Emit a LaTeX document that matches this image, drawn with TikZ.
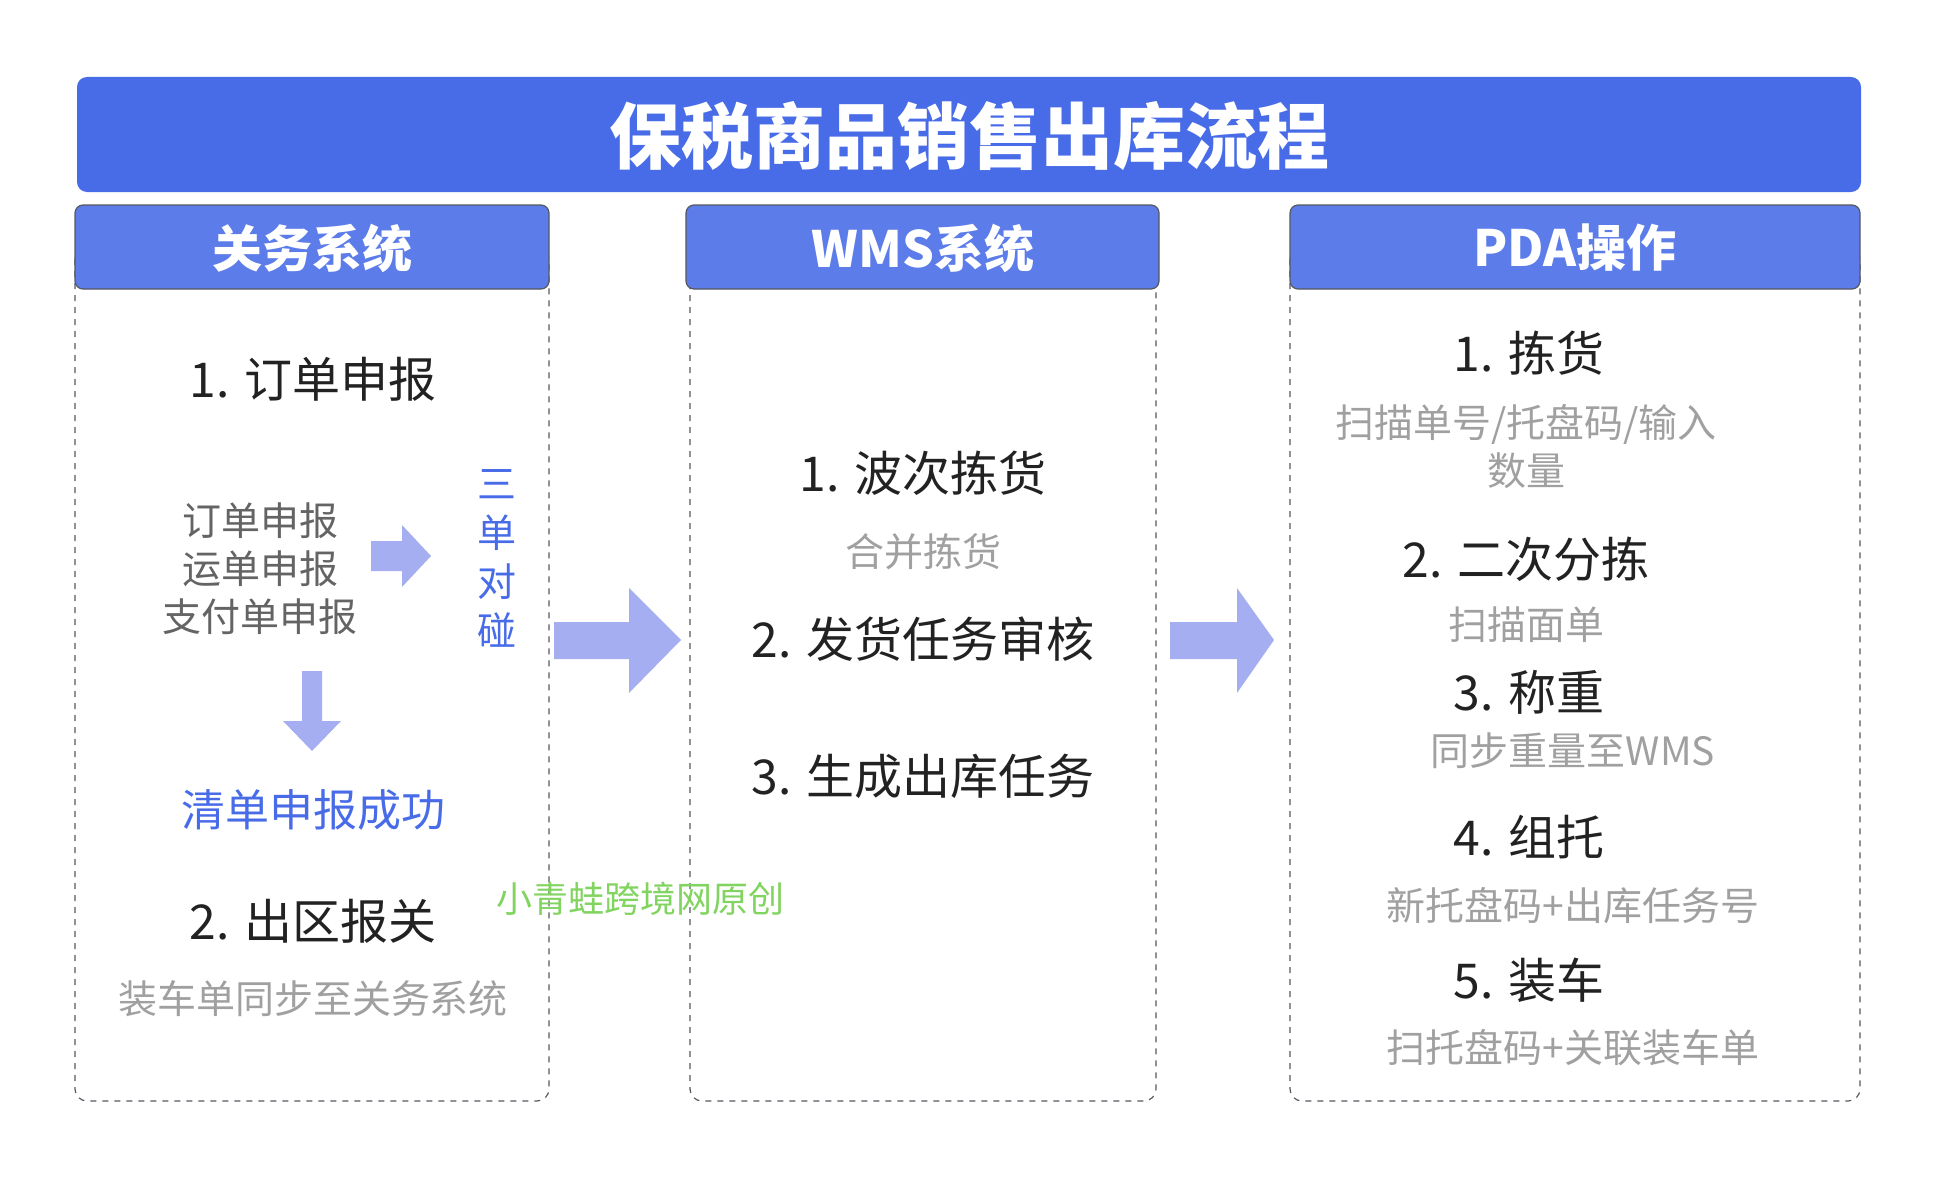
\documentclass[tikz,border=0pt]{standalone}
\usepackage{fontspec}
\setmainfont{Noto Sans CJK SC}
\usetikzlibrary{positioning}

\definecolor{titleblue}{RGB}{72,108,232}
\definecolor{headblue}{RGB}{92,124,234}
\definecolor{arrowblue}{RGB}{165,174,240}
\definecolor{textblue}{RGB}{72,108,232}
\definecolor{itemblack}{RGB}{34,34,34}
\definecolor{notegray}{RGB}{160,160,160}
\definecolor{markgreen}{RGB}{130,212,96}
\definecolor{boxline}{RGB}{85,88,96}

\tikzset{
    item/.style={font=\fontsize{24}{28}\selectfont, text=itemblack},
    note/.style={font=\fontsize{19.5}{24}\selectfont, text=notegray, align=center},
    header/.style={draw=boxline, fill=headblue, rounded corners=4pt, line width=0.6pt},
    headtext/.style={font=\bfseries\fontsize{25}{30}\selectfont, text=white},
    dashbox/.style={draw=boxline, dashed, rounded corners=6pt, line width=0.6pt},
    bigarrow/.style={fill=arrowblue},
}

\begin{document}
\begin{tikzpicture}[x=0.5pt, y=-0.5pt]
    \useasboundingbox (0,0) rectangle (1938,1177);

    % title bar
    \fill[titleblue, rounded corners=5pt] (77,77) rectangle (1861,192);
    \node[font=\bfseries\fontsize{36}{40}\selectfont, text=white] (title) at (969,136) {保税商品销售出库流程};

    % three columns
    \draw[dashbox] (75,247) rectangle (549,1101);
    \draw[dashbox] (690,247) rectangle (1156,1101);
    \draw[dashbox] (1290,247) rectangle (1860,1101);

    \draw[header] (75,205) rectangle (549,289);
    \draw[header] (686,205) rectangle (1159,289);
    \draw[header] (1290,205) rectangle (1860,289);

    \node[headtext] (hcustoms) at (312,248) {关务系统};
    \node[headtext] (hwms) at (923,248) {WMS系统};
    \node[headtext] (hpda) at (1575,248) {PDA操作};

    % customs system
    \node[item] (c1) at (313,379) {1. 订单申报};
    \node[note, text=itemblack!70] (corders) at (260,569) {订单申报\\运单申报\\支付单申报};
    \fill[bigarrow] (371,541) -- (402,541) -- (402,525) -- (431,556) -- (402,587) -- (402,571) -- (371,571) -- cycle;
    \node[font=\fontsize{19.5}{24.5}\selectfont, text=textblue, align=center] (cmatch) at (497,558) {三\\单\\对\\碰};
    \fill[bigarrow] (302,671) -- (322,671) -- (322,721) -- (341,721) -- (312,751) -- (283,721) -- (302,721) -- cycle;
    \node[font=\fontsize{22}{26}\selectfont, text=textblue] (cdone) at (313,810) {清单申报成功};
    \node[item] (c2) at (313,921) {2. 出区报关};
    \node[note] (c2n) at (313,999) {装车单同步至关务系统};

    % wms system
    \node[item] (w1) at (923,473) {1. 波次拣货};
    \node[note] (w1n) at (923,552) {合并拣货};
    \node[item] (w2) at (923,639) {2. 发货任务审核};
    \node[item] (w3) at (923,776) {3. 生成出库任务};

    % pda
    \node[item] (p1) at (1529,353) {1. 拣货};
    \node[note] (p1n) at (1526,447) {扫描单号/托盘码/输入\\数量};
    \node[item] (p2) at (1526,559) {2. 二次分拣};
    \node[note] (p2n) at (1526,625) {扫描面单};
    \node[item] (p3) at (1529,692) {3. 称重};
    \node[note] (p3n) at (1573,751) {同步重量至WMS};
    \node[item] (p4) at (1529,837) {4. 组托};
    \node[note] (p4n) at (1573,906) {新托盘码+出库任务号};
    \node[item] (p5) at (1529,980) {5. 装车};
    \node[note] (p5n) at (1573,1048) {扫托盘码+关联装车单};

    % big arrows between columns
    \fill[bigarrow] (554,622) -- (629,622) -- (629,588) -- (681,640) -- (629,693) -- (629,659) -- (554,659) -- cycle;
    \fill[bigarrow] (1170,622) -- (1237,622) -- (1237,588) -- (1274,640) -- (1237,693) -- (1237,659) -- (1170,659) -- cycle;

    \node[font=\fontsize{18}{22}\selectfont, text=markgreen] (mark) at (640,899) {小青蛙跨境网原创};
\end{tikzpicture}
\end{document}
